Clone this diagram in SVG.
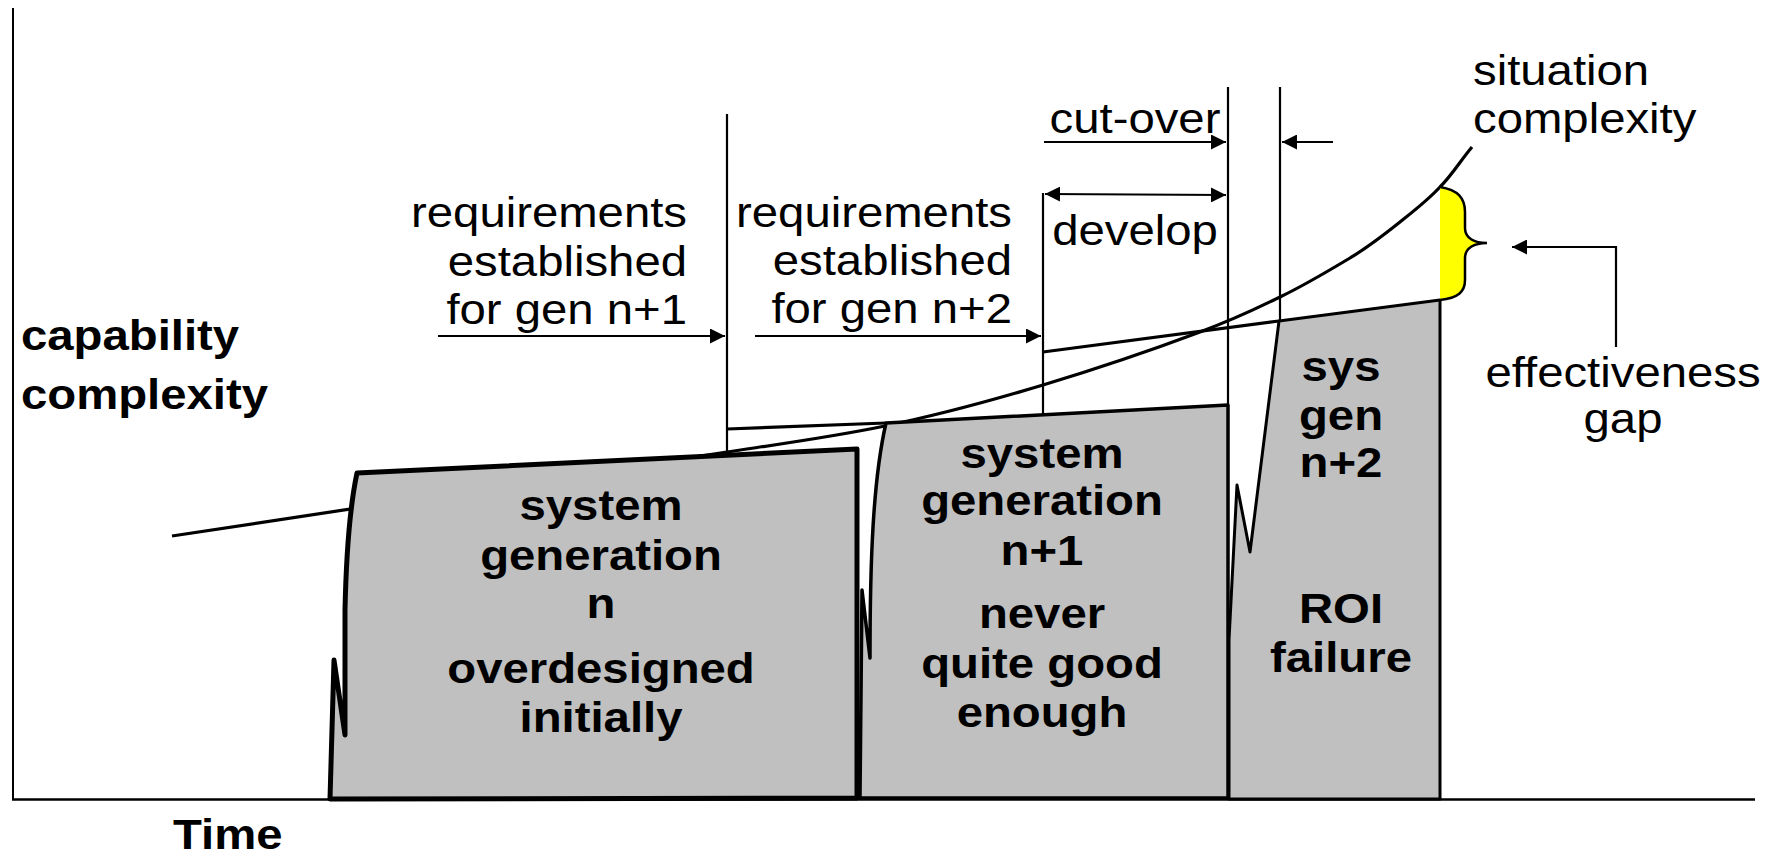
<svg xmlns="http://www.w3.org/2000/svg" width="1781" height="859" viewBox="0 0 1781 859">
  <defs>
    <marker id="ah" viewBox="0 0 15 15" refX="15" refY="7.5" markerWidth="15" markerHeight="15" markerUnits="userSpaceOnUse" orient="auto-start-reverse">
      <path d="M0,0 L15,7.5 L0,15 Z" fill="#000"/>
    </marker>
  </defs>
  <style>
    .t{font-family:"Liberation Sans",Arial,sans-serif;font-size:43px;fill:#000}
    .b{font-weight:bold}
    .thin{fill:none;stroke:#000;stroke-width:2.2}
    .mid{fill:none;stroke:#000;stroke-width:3.2}
    .box{fill:#c0c0c0;stroke:#000;stroke-linejoin:round;stroke-linecap:round}
    .arr{fill:none;stroke:#000;stroke-width:2.2;marker-end:url(#ah)}
  </style>
  <rect width="1781" height="859" fill="#fff"/>

  <!-- axes -->
  <g id="axes">
    <line x1="13" y1="8" x2="13" y2="800" stroke="#000" stroke-width="2"/>
    <line x1="12" y1="799.5" x2="1755" y2="799.5" stroke="#000" stroke-width="2.6"/>
  </g>

  <!-- situation complexity curve -->
  <path id="situation-curve" class="mid" d="M172,536 L727,452 C780,444 832,437 885,426 C938,415 990,401 1043,385 C1096,369 1160,347 1200,332 C1240,317 1255,309 1280,297 C1305,285 1330,270 1350,258 C1370,246 1385,234 1400,222 C1415,210 1428,200 1440,187 C1452,175 1461,160 1472,147"/>

  <!-- system generation n -->
  <g id="gen-n">
    <path class="box" stroke-width="5" d="M357,473 L857,449 L857,798 L330,799 L334,660 L345,735 L345,610 Q347,520 357,473 Z"/>
    <g transform="translate(601,0) scale(1.1,1)">
      <text class="t b" text-anchor="middle"><tspan x="0" y="520">system</tspan><tspan x="0" y="570">generation</tspan><tspan x="0" y="618">n</tspan><tspan x="0" y="683">overdesigned</tspan><tspan x="0" y="732">initially</tspan></text>
    </g>
  </g>

  <!-- system generation n+1 -->
  <g id="gen-n1">
    <line class="mid" x1="727" y1="429" x2="886" y2="423"/>
    <path class="box" stroke-width="3.5" d="M886,423 L1228,405 L1228,798 L860,798 L862,590 L870,658 C870,560 873,480 886,423 Z"/>
    <g transform="translate(1042,0) scale(1.1,1)">
      <text class="t b" text-anchor="middle"><tspan x="0" y="468">system</tspan><tspan x="0" y="515">generation</tspan><tspan x="0" y="565">n+1</tspan><tspan x="0" y="628">never</tspan><tspan x="0" y="678">quite good</tspan><tspan x="0" y="727">enough</tspan></text>
    </g>
  </g>

  <!-- system generation n+2 -->
  <g id="gen-n2">
    <line class="mid" x1="1043" y1="352" x2="1279" y2="321"/>
    <path class="box" stroke-width="3" d="M1279,321 L1440,300 L1440,799 L1229,799 L1229,640 L1237,485 L1250,552 Z"/>
    <g transform="translate(1341,0) scale(1.1,1)">
      <text class="t b" text-anchor="middle"><tspan x="0" y="381">sys</tspan><tspan x="0" y="430">gen</tspan><tspan x="0" y="477">n+2</tspan><tspan x="0" y="623">ROI</tspan><tspan x="0" y="672">failure</tspan></text>
    </g>
  </g>

  <!-- effectiveness gap brace -->
  <g id="gap-brace">
    <path d="M1440,187 C1458,190 1465,198 1465,212 L1465,228 C1465,238 1474,243 1487,243 C1474,243 1465,248 1465,258 L1465,280 C1465,292 1458,298 1440,300 Z" fill="#ffff00"/>
    <path d="M1440,187 C1458,190 1465,198 1465,212 L1465,228 C1465,238 1474,243 1487,243 C1474,243 1465,248 1465,258 L1465,280 C1465,292 1458,298 1440,300" fill="none" stroke="#000" stroke-width="2.5"/>
  </g>

  <!-- milestone markers and arrows -->
  <g id="connectors">
    <line class="thin" x1="727" y1="114" x2="727" y2="456"/>
    <line class="thin" x1="1043" y1="193" x2="1043" y2="414"/>
    <line class="thin" x1="1228" y1="87" x2="1228" y2="406"/>
    <line class="thin" x1="1280" y1="87" x2="1280" y2="321"/>
    <line class="arr" x1="438" y1="336" x2="725" y2="336"/>
    <line class="arr" x1="755" y1="336" x2="1041" y2="336"/>
    <line class="arr" x1="1044" y1="142" x2="1226" y2="142"/>
    <line class="arr" x1="1333" y1="142" x2="1282" y2="142"/>
    <line class="arr" x1="1045" y1="194" x2="1226" y2="195" marker-start="url(#ah)"/>
    <path class="arr" d="M1616,347 L1616,247 L1512,247"/>
  </g>

  <!-- labels -->
  <g id="label-req-n1" transform="translate(687,0) scale(1.1,1)">
    <text class="t" text-anchor="end"><tspan x="0" y="227">requirements</tspan><tspan x="0" y="276">established</tspan><tspan x="0" y="324">for gen n+1</tspan></text>
  </g>
  <g id="label-req-n2" transform="translate(1012,0) scale(1.1,1)">
    <text class="t" text-anchor="end"><tspan x="0" y="227">requirements</tspan><tspan x="0" y="275">established</tspan><tspan x="0" y="323">for gen n+2</tspan></text>
  </g>
  <g id="label-cutover" transform="translate(1135,0) scale(1.1,1)">
    <text class="t" text-anchor="middle" x="0" y="133">cut-over</text>
  </g>
  <g id="label-develop" transform="translate(1135,0) scale(1.1,1)">
    <text class="t" text-anchor="middle" x="0" y="245">develop</text>
  </g>
  <g id="label-situation" transform="translate(1473,0) scale(1.1,1)">
    <text class="t"><tspan x="0" y="85">situation</tspan><tspan x="0" y="133">complexity</tspan></text>
  </g>
  <g id="label-gap" transform="translate(1623,0) scale(1.1,1)">
    <text class="t" text-anchor="middle"><tspan x="0" y="387">effectiveness</tspan><tspan x="0" y="433">gap</tspan></text>
  </g>
  <g id="label-capability" transform="translate(21,0) scale(1.1,1)">
    <text class="t b"><tspan x="0" y="350">capability</tspan><tspan x="0" y="409">complexity</tspan></text>
  </g>
  <g id="label-time" transform="translate(173,0) scale(1.1,1)">
    <text class="t b" x="0" y="849">Time</text>
  </g>
</svg>
